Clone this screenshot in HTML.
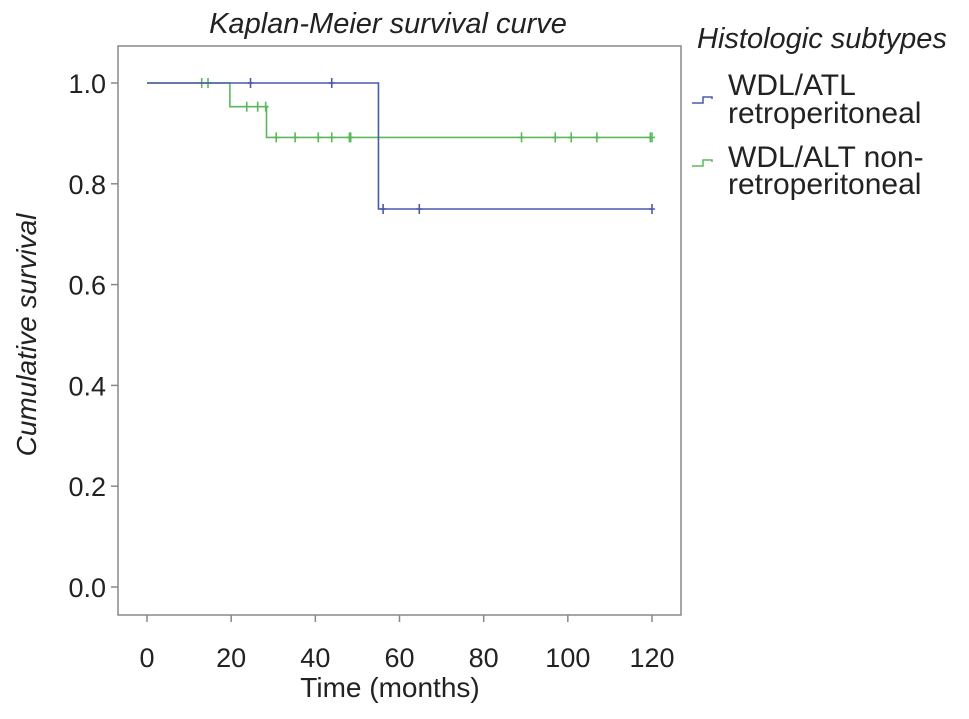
<!DOCTYPE html>
<html><head><meta charset="utf-8"><style>
body{margin:0;background:#fff;}
svg text{font-family:"Liberation Sans",Arial,sans-serif;fill:#222;}
</style></head><body>
<svg width="969" height="714">
<rect width="969" height="714" fill="#fff"/>
<text x="388" y="33" font-size="29" font-style="italic" text-anchor="middle">Kaplan-Meier survival curve</text>
<rect x="118" y="46" width="563" height="569" fill="none" stroke="#888" stroke-width="1.5"/>
<g id="axes"></g>
<g id="series"></g>
<text x="390" y="697" font-size="28" text-anchor="middle">Time (months)</text>
<text transform="translate(36,335) rotate(-90)" font-size="28" font-style="italic" text-anchor="middle">Cumulative survival</text>
<text x="697" y="48" font-size="29" font-style="italic">Histologic subtypes</text>
<g>
<path d="M692,103 h11 v-6 h9 v2" fill="none" stroke="#4a5aa8" stroke-width="1.5"/>
<text x="728" y="95" font-size="30">WDL/ATL</text>
<text x="728" y="123" font-size="30">retroperitoneal</text>
</g>
<g>
<path d="M692,166 h11 v-6 h9 v2" fill="none" stroke="#5cb85c" stroke-width="1.5"/>
<text x="728" y="167" font-size="30">WDL/ALT non-</text>
<text x="728" y="194" font-size="30">retroperitoneal</text>
</g>
</svg>
<script>
const xTicks=[0,20,40,60,80,100,120];
const yTicks=[0.0,0.2,0.4,0.6,0.8,1.0];
const blueTimes=[0,55,120];
const blueSurv=[1.0,0.75,0.75];
const blueCensor=[24.6,43.9,56.1,64.7,120];
const greenTimes=[0,19.7,28.4,120];
const greenSurv=[1.0,0.953,0.892,0.892];
const greenCensor=[13,14.5,23.7,26.3,28.2,30.7,35.2,40.7,43.9,48.1,48.4,89,97,100.8,106.9,119.6,120];
const X=t=>147+t*(652-147)/120, Y=s=>587-s*504;
const NS="http://www.w3.org/2000/svg";
function mk(tag,attrs,parent){const e=document.createElementNS(NS,tag);for(const k in attrs)e.setAttribute(k,attrs[k]);parent.appendChild(e);return e;}
const ax=document.getElementById('axes'), se=document.getElementById('series');
xTicks.forEach(t=>{
 const l=mk('line',{x1:X(t),x2:X(t),y1:615,y2:622,stroke:'#888','stroke-width':1.5},ax);
 
 
 const tx=mk('text',{x:X(t),y:667,'font-size':27,'text-anchor':'middle'},ax);tx.textContent=t;
 
 
});
yTicks.forEach(v=>{
 const l=mk('line',{x1:111,x2:118,y1:Y(v),y2:Y(v),stroke:'#888','stroke-width':1.5},ax);
 
 
 const tx=mk('text',{x:106,y:Y(v)+10,'font-size':27,'text-anchor':'end'},ax);tx.textContent=v.toFixed(1);
 
 
});
function stepPath(T,S){let d='M'+X(T[0])+','+Y(S[0]);for(let i=1;i<T.length;i++){d+=' H'+X(T[i])+' V'+Y(S[i]);}return d;}
function survAt(T,S,t){let s=S[0];for(let i=0;i<T.length;i++){if(T[i]<=t)s=S[i];}return s;}
function draw(T,S,C,col,name){
 const p=mk('path',{d:stepPath(T,S),fill:'none',stroke:col,'stroke-width':1.6},se);
 
 
 C.forEach(t=>{const y=Y(survAt(T,S,t));
  const m=mk('path',{d:'M'+(X(t)-3)+','+y+' H'+(X(t)+3)+' M'+X(t)+','+(y-5)+' V'+(y+5),stroke:col,'stroke-width':1.6},se);
  
  
 });
}
draw(greenTimes,greenSurv,greenCensor,'#5cb85c','nonretro');
draw(blueTimes,blueSurv,blueCensor,'#4a5aa8','retro');
</script>
</body></html>
